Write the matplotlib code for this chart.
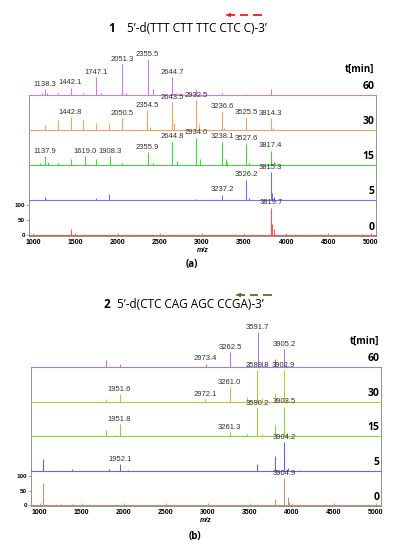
import matplotlib
matplotlib.use('Agg')
import matplotlib.pyplot as plt
import matplotlib.transforms as mtransforms
from matplotlib.lines import Line2D
from matplotlib.patches import Polygon

plt.rcParams['font.family'] = ['Liberation Sans', 'DejaVu Sans']

times = [60, 30, 15, 5, 0]
xticks = [1000, 1500, 2000, 2500, 3000, 3500, 4000, 4500, 5000]
yticks = [0, 50, 100]

# ---- (a) 5'-d(TTT CTT TTC CTC C)-3'
a60_mz = [1100, 1138.3, 1160, 1290, 1442.1, 1595, 1747.1, 1800, 2051.3, 2100, 2355.5, 2420, 2644.7, 2700, 2932.5, 3236.6, 3525, 3814.3]
a60_int = [8, 20, 6, 6, 24, 6, 59, 6, 103, 5, 119, 20, 59, 8, 20, 8, 4, 20]
a60_lab = [1138.3, 1442.1, 1747.1, 2051.3, 2355.5, 2644.7]

a30_mz = [1138, 1290, 1442.8, 1595, 1747, 1899, 2050.5, 2200, 2354.5, 2380, 2643.5, 2670, 2932.5, 2960, 3236.6, 3260, 3525.5, 3814.3, 3840]
a30_int = [17, 33, 44, 33, 24, 20, 39, 5, 67, 10, 93, 25, 100, 20, 61, 8, 44, 39, 6]
a30_lab = [1442.8, 2050.5, 2354.5, 2643.5, 2932.5, 3236.6, 3525.5, 3814.3]

a15_mz = [1080, 1137.9, 1170, 1290, 1442, 1619.0, 1747, 1908.3, 2050, 2355.9, 2420, 2644.8, 2700, 2934.0, 2980, 3238.1, 3280, 3300, 3527.6, 3560, 3817.4, 3850, 3870]
a15_int = [8, 30, 10, 8, 22, 30, 22, 30, 8, 44, 8, 78, 15, 92, 20, 78, 20, 10, 72, 8, 48, 12, 6]
a15_lab = [1137.9, 1619.0, 1908.3, 2355.9, 2644.8, 2934.0, 3238.1, 3527.6, 3817.4]

a5_mz = [1137, 1150, 1747, 1899, 2930, 3237.2, 3526.2, 3560, 3815.3, 3835, 3860]
a5_int = [10, 5, 6, 20, 4, 19, 69, 8, 94, 25, 12]
a5_lab = [3237.2, 3526.2, 3815.3]

a0_mz = [1450, 3819.7, 3835, 3860, 4000]
a0_int = [20, 92, 37, 20, 5]
a0_lab = [3819.7]

a_colors = ['#c77fdc', '#f4a262', '#44d444', '#6f6ff2', '#f05a5a']

# ---- (b) 5'-d(CTC CAG AGC CCGA)-3'
b60_mz = [1785, 1951.6, 2973.4, 3262.5, 3468, 3555, 3591.7, 3640, 3680, 3793, 3905.2, 3935]
b60_int = [24, 9, 11, 50, 8, 5, 117, 20, 6, 28, 61, 8]
b60_lab = [2973.4, 3262.5, 3591.7, 3905.2]

b30_mz = [1785, 1951.6, 2972.1, 3261.0, 3468, 3589.8, 3640, 3793, 3902.9, 3930]
b30_int = [8, 26, 8, 48, 15, 106, 12, 28, 106, 10]
b30_lab = [1951.6, 2972.1, 3261.0, 3589.8, 3902.9]

b15_mz = [1785, 1900, 1951.8, 3261.3, 3468, 3590.2, 3640, 3793, 3903.5, 3940]
b15_int = [22, 5, 41, 13, 8, 94, 8, 39, 100, 10]
b15_lab = [1951.8, 3261.3, 3590.2, 3903.5]

b5_mz = [1040, 1385, 1830, 1952.1, 2050, 3590, 3793, 3904.2, 3950, 4080]
b5_int = [41, 5, 5, 22, 3, 24, 49, 97, 8, 4]
b5_lab = [1952.1, 3904.2]

b0_mz = [1040, 1250, 1385, 3793, 3904.9, 3950, 3970]
b0_int = [75, 5, 6, 22, 92, 30, 10]
b0_lab = [3904.9]

b_colors = ['#a77ce0', '#c9c03c', '#8fd03f', '#6262f6', '#c19272']

step = 117

fig = plt.figure(figsize=(3.95, 5.5), dpi=100)
W, H = 395.0, 550.0


def draw_panel(ax, rows, colors, xlim):
    ax.set_xlim(xlim)
    ax.set_ylim(-2, 4 * step)
    trans = mtransforms.blended_transform_factory(ax.transAxes, ax.transData)
    for i, (mz, it, lab) in enumerate(rows):
        base = (4 - i) * step
        c = colors[i]
        ax.plot(xlim, [base, base], color=c, lw=0.8, clip_on=False, zorder=3)
        ax.vlines(mz, base, [base + h for h in it], color=c, lw=0.8, clip_on=False, zorder=3)
        for m, h in zip(mz, it):
            if m in lab:
                ax.annotate('%.1f' % m, (m, base + h), xytext=(0, 1), textcoords='offset points',
                            ha='center', va='bottom', fontsize=5.5, color='#333333', zorder=4,
                            annotation_clip=False)
        ax.text(0.995, base + 28, str(times[i]), transform=trans, ha='right', va='center',
                fontsize=7.5, fontweight='bold', family=['Open Sans', 'DejaVu Sans'])
    ax.text(0.995, 4 * step + 86, 't[min]', transform=trans, ha='right', va='center',
            fontsize=7, fontweight='bold', family=['Open Sans', 'DejaVu Sans'])
    for s in ax.spines.values():
        s.set_color('#808080')
        s.set_linewidth(0.6)
    ax.set_xticks(xticks)
    ax.set_xticks(range(1000, 5001, 100), minor=True)
    ax.set_yticks(yticks)
    ax.tick_params(axis='x', which='major', direction='in', length=2.5, width=0.5,
                   labelsize=5, pad=2, colors='#808080', labelcolor='black')
    ax.tick_params(axis='x', which='minor', direction='in', length=1.2, width=0.4, colors='#b0b0b0')
    ax.tick_params(axis='y', direction='out', length=2, width=0.5, labelsize=4.5, pad=1,
                   colors='#808080', labelcolor='black')
    for t in ax.get_xticklabels() + ax.get_yticklabels():
        t.set_fontweight('bold')
    ax.set_xlabel('m/z', fontsize=5, fontstyle='italic', fontweight='bold', labelpad=1)


def draw_arrow(x0, y, color):
    yf = 1 - y / H
    head = Polygon([[x0 / W, yf], [(x0 + 6) / W, yf + 2.2 / H], [(x0 + 6) / W, yf - 2.2 / H]],
                   closed=True, transform=fig.transFigure, color=color, lw=0)
    fig.add_artist(head)
    for a, b in [(x0 + 5, x0 + 10), (x0 + 15, x0 + 23), (x0 + 28, x0 + 37)]:
        fig.add_artist(Line2D([a / W, b / W], [yf, yf], transform=fig.transFigure,
                              color=color, lw=1.3, solid_capstyle='butt'))


ax1 = fig.add_axes([29 / W, 1 - 236 / H, (376 - 29) / W, (236 - 95) / H])
draw_panel(ax1, [(a60_mz, a60_int, a60_lab), (a30_mz, a30_int, a30_lab), (a15_mz, a15_int, a15_lab),
                 (a5_mz, a5_int, a5_lab), (a0_mz, a0_int, a0_lab)], a_colors, (949, 5065))

ax2 = fig.add_axes([31 / W, 1 - 506 / H, (381 - 31) / W, (506 - 367) / H])
draw_panel(ax2, [(b60_mz, b60_int, b60_lab), (b30_mz, b30_int, b30_lab), (b15_mz, b15_int, b15_lab),
                 (b5_mz, b5_int, b5_lab), (b0_mz, b0_int, b0_lab)], b_colors, (898, 5059))

# titles
fig.text(112 / W, 1 - 29 / H, '1', ha='center', va='center', fontsize=8.5, fontweight='bold',
         family=['Open Sans', 'DejaVu Sans'])
fig.text(127 / W, 1 - 29 / H, '5’-d(TTT CTT TTC CTC C)-3’', ha='left', va='center', fontsize=8.5,
         family=['Open Sans', 'DejaVu Sans'])
fig.text(107 / W, 1 - 305 / H, '2', ha='center', va='center', fontsize=8.5, fontweight='bold',
         family=['Open Sans', 'DejaVu Sans'])
fig.text(117 / W, 1 - 305 / H, '5’-d(CTC CAG AGC CCGA)-3’', ha='left', va='center', fontsize=8.5,
         family=['Open Sans', 'DejaVu Sans'])

draw_arrow(225, 15, '#e8202a')
draw_arrow(235, 295, '#7a6020')

fig.text(192 / W, 1 - 264 / H, '(a)', ha='center', va='center', fontsize=7, fontweight='bold',
         family=['Open Sans', 'DejaVu Sans'])
fig.text(195 / W, 1 - 537 / H, '(b)', ha='center', va='center', fontsize=7, fontweight='bold',
         family=['Open Sans', 'DejaVu Sans'])

fig.savefig('out.png', dpi=100)
